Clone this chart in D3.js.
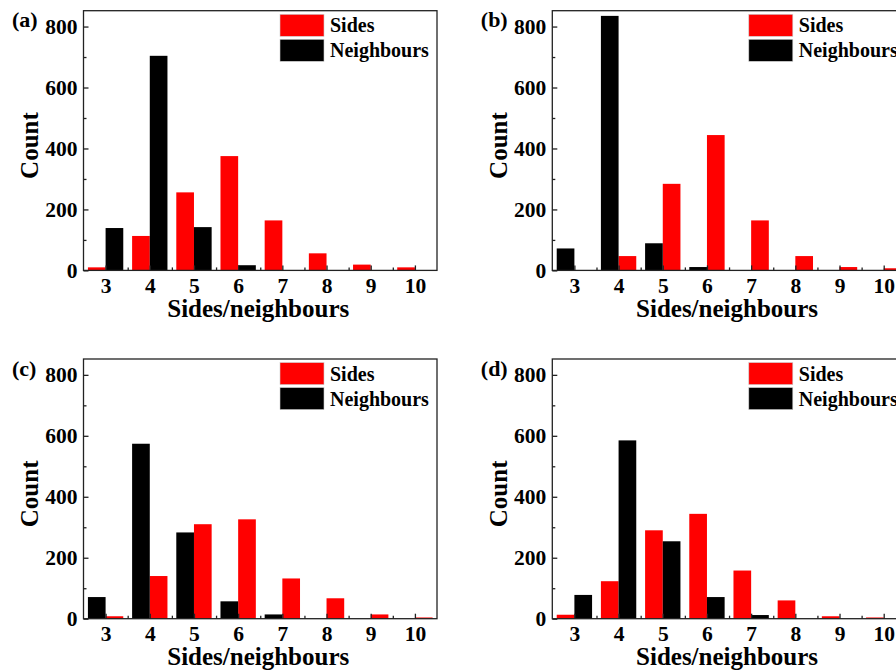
<!DOCTYPE html>
<html>
<head>
<meta charset="utf-8">
<script src="https://cdn.jsdelivr.net/npm/d3@7"></script>
<style>
  body { margin: 0; background: #fff; }
  svg { display: block; }
  text { font-family: "Liberation Serif", "Times New Roman", serif; font-weight: bold; fill: #000; }
</style>
</head>
<body>
<div id="chart"></div>
<script>
// categories on x
const categories = [3, 4, 5, 6, 7, 8, 9, 10];
const yTicks = [0, 200, 400, 600, 800];

// counts
const sidesA = [10, 113, 256, 375, 164, 56, 19, 10];
const neighA = [139, 704, 142, 17, 0, 0, 0, 0];
const sidesB = [0, 47, 284, 444, 164, 47, 11, 7];
const neighB = [72, 835, 89, 11, 0, 0, 0, 0];
const sidesC = [8, 140, 310, 326, 132, 67, 14, 4];
const neighC = [71, 574, 283, 57, 14, 0, 0, 0];
const sidesD = [13, 123, 290, 344, 158, 60, 8, 4];
const neighD = [78, 585, 254, 71, 12, 0, 0, 0];

const panels = [
  { label: "(a)", left: 83.5, top: 10.7, sides: sidesA, neigh: neighA, redFirst: true },
  { label: "(b)", left: 552.3, top: 10.7, sides: sidesB, neigh: neighB, redFirst: false },
  { label: "(c)", left: 83.5, top: 359, sides: sidesC, neigh: neighC, redFirst: false },
  { label: "(d)", left: 552.3, top: 359, sides: sidesD, neigh: neighD, redFirst: true }
];

const width = 353.5, height = 259.7;
const red = "#ff0000", black = "#000000", axisColor = "#222";

const svg = d3.select("#chart")
  .append("svg")
  .attr("width", 896)
  .attr("height", 672);

panels.forEach(p => {
  const g = svg.append("g")
    .attr("transform", `translate(${p.left},${p.top})`);

  const x = d3.scaleLinear().domain([2.5, 10.5]).range([0, width]);
  const y = d3.scaleLinear().domain([0, 852]).range([height, 0]);
  const bw = x(2.9) - x(2.5);

  // bars
  const series = [
    { vals: p.sides, color: red, off: p.redFirst ? -0.4 : 0 },
    { vals: p.neigh, color: black, off: p.redFirst ? 0 : -0.4 }
  ];
  series.forEach(s => {
    g.append("g")
      .selectAll("rect")
      .data(categories.map((c, i) => ({ c, v: s.vals[i] })).filter(d => d.v > 0))
      .join("rect")
      .attr("x", d => x(d.c + s.off))
      .attr("y", d => y(d.v))
      .attr("width", bw)
      .attr("height", d => y(0) - y(d.v))
      .attr("fill", s.color);
  });

  // frame
  g.append("rect")
    .attr("width", width)
    .attr("height", height)
    .attr("fill", "none")
    .attr("stroke", axisColor)
    .attr("stroke-width", 1.3);

  // x axis: major ticks at categories, minor at the midpoints, all inward
  const xAxis = g.append("g").attr("transform", `translate(0,${height})`);
  xAxis.call(d3.axisBottom(x).tickValues(categories).tickSize(-5).tickPadding(7).tickFormat(d3.format("d")));
  xAxis.append("g").call(d3.axisBottom(x).tickValues(d3.range(3.5, 10.5, 1)).tickSize(-3).tickFormat(""));

  // y axis
  const yAxis = g.append("g");
  yAxis.call(d3.axisLeft(y).tickValues(yTicks).tickSize(-5).tickPadding(6));
  yAxis.append("g").call(d3.axisLeft(y).tickValues([100, 300, 500, 700]).tickSize(-3).tickFormat(""));

  g.selectAll(".domain").remove();
  g.selectAll(".tick line").attr("stroke", axisColor).attr("stroke-width", 1.3);
  g.selectAll(".tick text")
    .attr("font-family", "Liberation Serif")
    .attr("font-size", 21.5)
    .attr("font-weight", "bold")
    .attr("fill", "#000");

  // axis titles
  g.append("text")
    .attr("x", width / 2 - 2)
    .attr("y", height + 46.5)
    .attr("text-anchor", "middle")
    .attr("font-size", 25)
    .text("Sides/neighbours");

  g.append("text")
    .attr("transform", `translate(-45.5,${height / 2 + 5}) rotate(-90)`)
    .attr("text-anchor", "middle")
    .attr("font-size", 25)
    .text("Count");

  // panel label
  g.append("text")
    .attr("x", -71.5)
    .attr("y", 16.5)
    .attr("font-size", 22)
    .text(p.label);

  // legend
  const leg = g.append("g").attr("transform", "translate(196.5,3.6)");
  [["Sides", red], ["Neighbours", black]].forEach(([name, color], i) => {
    leg.append("rect")
      .attr("x", 0)
      .attr("y", i * 25)
      .attr("width", 44)
      .attr("height", 22)
      .attr("fill", color)
      .attr("stroke", "#ccc")
      .attr("stroke-width", 0.6);
    leg.append("text")
      .attr("x", 50)
      .attr("y", i * 25 + 18)
      .attr("font-size", 20)
      .text(name);
  });
});
</script>
</body>
</html>
